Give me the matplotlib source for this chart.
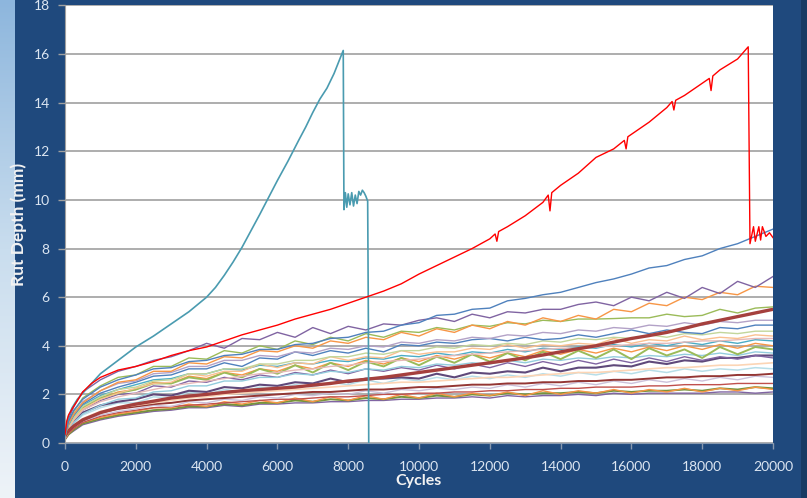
import numpy as np
import matplotlib
matplotlib.use("Agg")
import matplotlib.pyplot as plt
from matplotlib.patches import Rectangle

plt.rcParams['font.family'] = ['Lato', 'DejaVu Sans']

# cycles grid shared by the bundle of test curves
cycles = [0, 100, 250, 500, 1000, 1500] + list(range(2000, 20001, 500))

# failed sample 1 (teal)
teal_x = [0, 50, 100, 200, 350, 500, 750, 1000, 1500, 2000, 2500, 3000, 3500, 3750,
          4000, 4250, 4500, 4750, 5000, 5500, 6000, 6300, 6600, 6800, 7000, 7200,
          7400, 7600, 7750, 7860, 7880, 7920, 7960, 8000, 8050, 8100, 8150, 8200,
          8250, 8300, 8350, 8400, 8450, 8500, 8550, 8570, 8580]
teal_y = [0.3, 0.8, 1.1, 1.45, 1.8, 2.05, 2.45, 2.85, 3.4, 3.95, 4.4, 4.9, 5.4, 5.7,
          6.0, 6.4, 6.9, 7.45, 8.05, 9.4, 10.8, 11.6, 12.45, 13.0, 13.6, 14.15,
          14.6, 15.2, 15.75, 16.15, 9.6, 10.3, 9.7, 10.25, 9.8, 10.3, 9.75, 10.2,
          9.85, 10.35, 10.2, 10.4, 10.3, 10.15, 9.95, 5.0, 0.0]

# failed sample 2 (red)
red_x = [0, 50, 100, 200, 350, 500, 750, 1000, 1500, 2000, 2500, 3000, 3500, 4000,
         4500, 5000, 5500, 6000, 6500, 7000, 7500, 8000, 8500, 9000, 9500, 10000,
         10500, 11000, 11500, 12000, 12150, 12200, 12250, 12500, 13000, 13500, 13650,
         13700, 13750, 14000, 14500, 15000, 15500, 15800, 15850, 15900, 16500, 17000,
         17150, 17200, 17250, 17500, 18000, 18200, 18250, 18300, 18500, 19000, 19300,
         19350, 19450, 19500, 19600, 19650, 19700, 19800, 19900, 20000]
red_y = [0.35, 0.9, 1.15, 1.4, 1.75, 2.1, 2.45, 2.7, 3.0, 3.15, 3.35, 3.6, 3.8, 3.95,
         4.2, 4.45, 4.65, 4.85, 5.1, 5.3, 5.5, 5.75, 6.0, 6.25, 6.55, 6.95,
         7.3, 7.65, 8.0, 8.4, 8.6, 8.3, 8.7, 8.9, 9.35, 9.9, 10.2,
         9.55, 10.3, 10.6, 11.1, 11.75, 12.1, 12.45, 12.1, 12.6, 13.2, 13.8,
         14.05, 13.7, 14.1, 14.3, 14.8, 15.0, 14.5, 15.1, 15.35, 15.8, 16.3,
         8.2, 8.9, 8.3, 8.9, 8.35, 8.9, 8.5, 8.65, 8.45]

blue_top = [0.3, 0.9, 1.35, 1.8, 2.3, 2.6, 2.8, 3.05, 3.1, 3.35, 3.4, 3.6, 3.65, 3.85, 3.85,
            4.05, 4.1, 4.3, 4.35, 4.55, 4.6, 4.85, 4.95, 5.25, 5.3, 5.5, 5.55, 5.85, 5.95,
            6.1, 6.2, 6.4, 6.6, 6.75, 6.95, 7.2, 7.3, 7.55, 7.7, 8.0, 8.2, 8.5, 8.8]
purple_top = [0.3, 1.0, 1.5, 2.1, 2.6, 2.95, 3.15, 3.4, 3.55, 3.8, 4.1, 3.9, 4.3, 4.25,
              4.55, 4.35, 4.75, 4.5, 4.8, 4.65, 4.9, 4.85, 5.05, 5.15, 5.0, 5.3, 5.15,
              5.4, 5.35, 5.5, 5.5, 5.7, 5.8, 5.65, 6.0, 5.85, 6.2, 5.95, 6.4, 6.15,
              6.65, 6.4, 6.85]
orange_top = [0.3, 0.8, 1.2, 1.65, 2.15, 2.5, 2.6, 2.95, 2.95, 3.3, 3.25, 3.55, 3.5, 3.8,
              3.75, 4.0, 3.9, 4.2, 4.1, 4.35, 4.25, 4.55, 4.4, 4.7, 4.55, 4.85, 4.7,
              5.0, 4.85, 5.15, 5.0, 5.25, 5.1, 5.5, 5.4, 5.75, 5.65, 6.0, 5.9, 6.2,
              6.1, 6.45, 6.4]
green_top = [0.25, 0.85, 1.3, 1.85, 2.35, 2.7, 2.8, 3.15, 3.15, 3.5, 3.45, 3.8, 3.7,
             4.0, 3.85, 4.2, 4.05, 4.35, 4.2, 4.5, 4.35, 4.6, 4.55, 4.75, 4.65, 4.85, 4.8,
             4.95, 4.9, 5.05, 5.0, 5.1, 5.1, 5.12, 5.15, 5.15, 5.3, 5.2, 5.25, 5.5,
             5.35, 5.55, 5.6]
darkred_thick = [0.3, 0.5, 0.7, 0.95, 1.25, 1.45, 1.6, 1.72, 1.85, 1.93, 2.0, 2.08, 2.15,
                 2.2, 2.25, 2.3, 2.38, 2.45, 2.55, 2.62, 2.7, 2.8, 2.9, 3.0, 3.1, 3.2,
                 3.3, 3.4, 3.5, 3.62, 3.75, 3.88, 4.0, 4.15, 4.3, 4.42, 4.55, 4.72, 4.9,
                 5.05, 5.2, 5.35, 5.5]
lilac = [0.3, 0.8, 1.2, 1.7, 2.15, 2.45, 2.55, 2.85, 2.9, 3.15, 3.15, 3.4, 3.4, 3.6, 3.55,
         3.75, 3.7, 3.9, 3.85, 4.0, 3.95, 4.15, 4.1, 4.25, 4.2, 4.35, 4.3, 4.45, 4.4,
         4.55, 4.5, 4.65, 4.6, 4.75, 4.7, 4.85, 4.8, 4.95, 4.85, 5.0, 4.95, 5.05, 5.05]
blue_mid = [0.3, 0.75, 1.15, 1.6, 2.05, 2.3, 2.5, 2.75, 2.8, 3.05, 3.05, 3.3, 3.15, 3.5,
            3.45, 3.75, 3.6, 3.8, 3.7, 3.9, 3.75, 4.05, 4.0, 4.15, 4.1, 4.25, 4.3, 4.2,
            4.35, 4.25, 4.3, 4.45, 4.35, 4.5, 4.65, 4.5, 4.65, 4.55, 4.5, 4.75, 4.7, 4.85,
            4.85]
lightgreen = [0.25, 0.7, 1.05, 1.5, 1.9, 2.2, 2.3, 2.55, 2.6, 2.85, 2.85, 3.05, 3.05, 3.25,
              3.25, 3.4, 3.4, 3.55, 3.55, 3.7, 3.65, 3.8, 3.8, 3.95, 3.9, 4.05, 4.0,
              4.1, 4.05, 4.2, 4.15, 4.3, 4.25, 4.35, 4.3, 4.45, 4.35, 4.5, 4.45, 4.55,
              4.5, 4.6, 4.6]
peach = [0.25, 0.65, 1.0, 1.4, 1.8, 2.05, 2.25, 2.45, 2.5, 2.85, 2.75, 2.95, 2.95, 3.25,
         3.1, 3.3, 3.25, 3.55, 3.4, 3.55, 3.5, 3.8, 3.65, 3.75, 3.75, 3.9, 3.85, 4.05, 3.9,
         4.05, 4.0, 4.1, 4.05, 4.3, 4.1, 4.25, 4.2, 4.4, 4.25, 4.35, 4.3, 4.45, 4.4]
pink = [0.25, 0.6, 0.95, 1.35, 1.7, 1.9, 2.05, 2.2, 2.35, 2.45, 2.55, 2.65, 2.75, 2.85,
        2.9, 3.0, 3.05, 3.15, 3.2, 3.3, 3.35, 3.4, 3.45, 3.55, 3.6, 3.65, 3.7, 3.75,
        3.8, 3.85, 3.9, 3.9, 3.95, 4.0, 4.05, 4.1, 4.1, 4.15, 4.2, 4.2, 4.25, 4.3, 4.3]
aqua = [0.3, 0.75, 1.1, 1.55, 1.95, 2.2, 2.4, 2.6, 2.65, 2.85, 2.85, 3.05, 3.0, 3.2, 3.15,
        3.3, 3.25, 3.4, 3.35, 3.5, 3.45, 3.6, 3.55, 3.7, 3.6, 3.75, 3.7, 3.85, 3.75,
        3.9, 3.85, 3.95, 3.9, 4.05, 3.95, 4.1, 4.0, 4.15, 4.05, 4.2, 4.1, 4.25, 4.2]
olive = [0.25, 0.65, 1.0, 1.45, 1.85, 2.05, 2.2, 2.45, 2.45, 2.7, 2.6, 2.9, 2.7, 3.05,
         2.85, 3.2, 2.9, 3.3, 3.0, 3.35, 3.15, 3.5, 3.2, 3.55, 3.3, 3.65, 3.35, 3.7,
         3.4, 3.75, 3.45, 3.8, 3.5, 3.85, 3.45, 3.9, 3.6, 3.85, 3.5, 3.95, 3.65, 3.95, 3.85]
orange_mid = [0.25, 0.7, 1.05, 1.45, 1.85, 2.1, 2.2, 2.5, 2.45, 2.75, 2.65, 2.9, 2.8,
              3.05, 2.95, 3.2, 3.05, 3.3, 3.15, 3.4, 3.25, 3.5, 3.35, 3.6, 3.45, 3.65, 3.5,
              3.7, 3.55, 3.8, 3.65, 3.85, 3.7, 3.9, 3.75, 3.95, 3.8, 4.0, 3.85, 4.05,
              3.9, 4.1, 4.0]
lightblue = [0.2, 0.55, 0.85, 1.2, 1.55, 1.8, 1.85, 2.1, 2.15, 2.35, 2.35, 2.55, 2.55, 2.7,
             2.7, 2.85, 2.8, 2.95, 2.9, 3.05, 3.0, 3.15, 3.1, 3.25, 3.2, 3.3, 3.25,
             3.4, 3.3, 3.45, 3.4, 3.5, 3.45, 3.55, 3.5, 3.6, 3.55, 3.65, 3.6, 3.7,
             3.6, 3.75, 3.7]
purple_mid = [0.25, 0.65, 0.95, 1.35, 1.75, 2.0, 2.05, 2.35, 2.3, 2.55, 2.5, 2.7, 2.6,
              2.8, 2.7, 2.9, 2.8, 3.0, 2.85, 3.05, 2.95, 3.1, 3.0, 3.2, 3.05, 3.25,
              3.1, 3.3, 3.15, 3.35, 3.2, 3.4, 3.25, 3.45, 3.3, 3.5, 3.35, 3.55, 3.4,
              3.55, 3.45, 3.6, 3.5]
navy = [0.25, 0.6, 0.9, 1.25, 1.55, 1.7, 1.8, 2.0, 1.95, 2.15, 2.1, 2.3, 2.25, 2.4,
        2.35, 2.5, 2.45, 2.65, 2.5, 2.65, 2.65, 2.7, 2.65, 2.85, 2.7, 2.9, 2.85, 2.95, 2.9,
        3.1, 2.95, 3.1, 3.1, 3.2, 3.15, 3.35, 3.25, 3.4, 3.35, 3.5, 3.5, 3.6, 3.6]
peach2 = [0.2, 0.45, 0.7, 1.0, 1.3, 1.45, 1.55, 1.65, 1.75, 1.85, 1.9, 2.0, 2.05, 2.1,
          2.15, 2.2, 2.25, 2.3, 2.35, 2.4, 2.45, 2.5, 2.5, 2.55, 2.6, 2.65, 2.7, 2.7,
          2.75, 2.8, 2.85, 2.9, 2.9, 2.95, 3.0, 3.05, 3.1, 3.1, 3.15, 3.2, 3.2, 3.25, 3.3]
iceblue = [0.2, 0.5, 0.8, 1.15, 1.45, 1.65, 1.65, 1.9, 1.85, 2.1, 2.0, 2.2, 2.1, 2.3,
           2.25, 2.4, 2.3, 2.5, 2.4, 2.6, 2.45, 2.65, 2.55, 2.7, 2.6, 2.75, 2.65, 2.8,
           2.7, 2.85, 2.75, 2.9, 2.8, 2.95, 2.85, 3.0, 2.9, 3.05, 2.95, 3.05, 3.0, 3.1, 3.05]
brown = [0.2, 0.45, 0.7, 0.95, 1.25, 1.4, 1.5, 1.6, 1.65, 1.75, 1.8, 1.85, 1.9, 1.95,
         2.0, 2.05, 2.1, 2.1, 2.15, 2.2, 2.2, 2.25, 2.3, 2.3, 2.35, 2.4, 2.4, 2.45, 2.45,
         2.5, 2.5, 2.55, 2.55, 2.6, 2.6, 2.65, 2.7, 2.7, 2.75, 2.75, 2.8, 2.8, 2.85]
lavender = [0.2, 0.45, 0.65, 0.9, 1.15, 1.3, 1.4, 1.55, 1.5, 1.7, 1.65, 1.8, 1.75, 1.9,
            1.85, 2.0, 1.95, 2.05, 2.0, 2.15, 2.05, 2.2, 2.15, 2.25, 2.2, 2.3, 2.25, 2.4,
            2.3, 2.45, 2.35, 2.5, 2.4, 2.55, 2.45, 2.6, 2.5, 2.65, 2.55, 2.7, 2.6, 2.75, 2.7]
red_low = [0.15, 0.4, 0.6, 0.85, 1.1, 1.25, 1.35, 1.45, 1.5, 1.55, 1.6, 1.65, 1.7, 1.75,
           1.8, 1.8, 1.85, 1.9, 1.9, 1.95, 2.0, 2.0, 2.05, 2.05, 2.1, 2.1, 2.15, 2.15,
           2.2, 2.2, 2.25, 2.25, 2.3, 2.3, 2.3, 2.35, 2.35, 2.4, 2.4, 2.4, 2.45, 2.45, 2.45]
orange_low = [0.15, 0.4, 0.6, 0.85, 1.05, 1.2, 1.3, 1.45, 1.45, 1.6, 1.5, 1.7, 1.6,
              1.75, 1.65, 1.85, 1.7, 1.9, 1.75, 1.95, 1.8, 2.0, 1.85, 2.05, 1.9, 2.05, 1.95,
              2.1, 1.95, 2.15, 2.0, 2.15, 2.05, 2.2, 2.05, 2.2, 2.1, 2.25, 2.1, 2.25, 2.15,
              2.3, 2.2]
green_low = [0.15, 0.35, 0.55, 0.8, 1.0, 1.15, 1.25, 1.35, 1.4, 1.5, 1.5, 1.6, 1.55, 1.65,
             1.65, 1.75, 1.7, 1.8, 1.75, 1.85, 1.8, 1.9, 1.85, 1.95, 1.9, 2.0, 1.95, 2.05,
             2.0, 2.05, 2.05, 2.1, 2.05, 2.15, 2.1, 2.15, 2.15, 2.2, 2.15, 2.25, 2.2,
             2.3, 2.25]
purple_low = [0.15, 0.35, 0.5, 0.75, 0.95, 1.1, 1.2, 1.3, 1.35, 1.45, 1.45, 1.55, 1.5,
              1.6, 1.6, 1.65, 1.65, 1.7, 1.7, 1.75, 1.75, 1.8, 1.8, 1.85, 1.85, 1.9,
              1.85, 1.95, 1.9, 1.95, 1.95, 2.0, 1.95, 2.05, 2.0, 2.05, 2.05, 2.05, 2.05,
              2.1, 2.1, 2.05, 2.1]

bundle = [
    (purple_low, '#8064A2', 1.0), (green_low, '#77933C', 1.4), (orange_low, '#F79646', 1.0),
    (red_low, '#C0504D', 1.0), (lavender, '#CCC1DA', 1.0), (brown, '#943634', 1.4),
    (iceblue, '#B7DEE8', 1.1), (peach2, '#FCD5B5', 1.2), (navy, '#5F497A', 1.5),
    (purple_mid, '#8064A2', 1.0), (lightblue, '#93CDDD', 1.0), (orange_mid, '#F79646', 1.0),
    (olive, '#9BBB59', 1.4), (aqua, '#4BACC6', 1.0), (pink, '#E6B9B8', 1.0),
    (peach, '#FAC090', 1.0), (lightgreen, '#C3D69B', 1.0), (blue_mid, '#4F81BD', 1.0),
    (lilac, '#B3A2C7', 1.0), (darkred_thick, '#A5403D', 2.4), (green_top, '#9BBB59', 1.0),
    (orange_top, '#F79646', 1.0), (purple_top, '#8064A2', 1.0), (blue_top, '#4F81BD', 1.0),
]

fig = plt.figure(figsize=(8.07, 4.98), dpi=100, facecolor='#1F497D')

# slide edges: light gradient strip on the left, darker strip on the right
strip = fig.add_axes([0, 0, 14 / 807, 1])
grad = np.linspace(0, 1, 256).reshape(-1, 1)
strip.imshow(grad, aspect='auto', cmap=matplotlib.colors.LinearSegmentedColormap.from_list(
    'edge', ['#EEF3F8', '#C9DDEE', '#8DB6DD']), origin='lower', extent=[0, 1, 0, 1])
strip.axis('off')
fig.patches.append(Rectangle((801 / 807, 0), 6 / 807, 1, transform=fig.transFigure,
                             facecolor='#173A63', edgecolor='none', zorder=0))

ax = fig.add_axes([65 / 807, 1 - 443 / 498, 708 / 807, 437.5 / 498])
ax.set_facecolor('white')

for vals, col, lw in bundle:
    ax.plot(cycles, vals, color=col, lw=lw, zorder=2)
ax.plot(teal_x, teal_y, color='#4A9BB0', lw=1.2, zorder=3)
ax.plot(red_x, red_y, color='#FF0000', lw=1.0, zorder=4)

ax.set_xlim(0, 20000)
ax.set_ylim(0, 18)
ax.set_xticks(range(0, 20001, 2000))
ax.set_yticks(range(0, 19, 2))
ax.grid(axis='y', color='#A0A0A0', lw=1.2, zorder=1)
ax.set_axisbelow(True)

for s in ['top', 'right']:
    ax.spines[s].set_visible(False)
ax.spines['left'].set_color('#A0A0A0')
ax.spines['bottom'].set_color('#8899AF')
ax.tick_params(axis='y', colors='#A0A0A0', labelcolor='#DCE6F2', length=5, width=1,
               labelsize=10, pad=6)
ax.tick_params(axis='x', colors='#8899AF', labelcolor='#DCE6F2', length=4, width=1,
               labelsize=10, pad=9)

ax.set_xlabel('Cycles', color='#F2F2F2', fontsize=11.5, fontweight='bold', labelpad=1)
ax.set_ylabel('Rut Depth (mm)', color='#F2F2F2', fontsize=12.5, fontweight='bold',
              labelpad=5)

fig.savefig('out.png', dpi=100, facecolor=fig.get_facecolor())
